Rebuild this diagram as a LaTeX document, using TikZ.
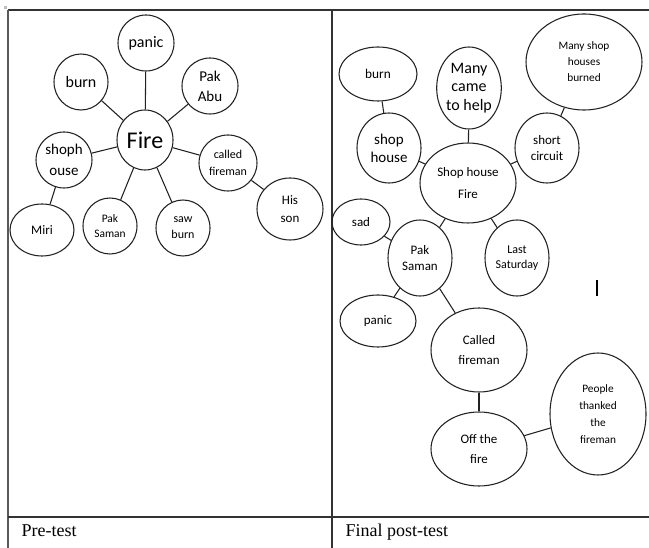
\documentclass[tikz,border=0pt]{standalone}
\usepackage{fontspec}
\setmainfont{Carlito}
\newfontfamily\tnr{Liberation Serif}
\usetikzlibrary{shapes.geometric}
\definecolor{linec}{HTML}{222222}
\definecolor{tablec}{HTML}{333333}
\begin{document}
\begin{tikzpicture}[x=0.75pt,y=-0.75pt,
  bub/.style 2 args={ellipse, draw=linec, line width=0.8pt, inner sep=0pt,
    minimum width={1.5pt*#1}, minimum height={1.5pt*#2}, align=center},
  fs/.style 2 args={font=\fontsize{#1}{#2}\selectfont},
  conn/.style={draw=linec, line width=0.8pt},
  tline/.style={draw=tablec, line width=1.2pt},
  captext/.style={anchor=base west, font=\tnr\fontsize{13.5pt}{15pt}\selectfont}]
\useasboundingbox (0,0) rectangle (649,548);
\fill[white] (0,0) rectangle (649,548);
% table
\draw[tline] (8,10) -- (649,10);
\draw[tline, draw=black!65, line width=1.5pt] (8,10) -- (8,548);
\draw[tline] (332,10) -- (332,548);
\draw[tline] (8,517) -- (649,517);
\fill[black!25] (4,6) rectangle (7,9);
\node[captext] (pre) at (17,536) {Pre-test};
\node[captext] (post) at (341,536) {Final post-test};
% ---------- left panel ----------
\node[bub={28}{28}, fs={12pt}{14pt}] (lpanic) at (146,43) {panic};
\node[bub={27}{28}, fs={12pt}{14pt}] (lburn) at (81,82) {burn};
\node[bub={28}{28}, fs={11.25pt}{15pt}] (labu) at (210,86) {Pak\\Abu};
\node[bub={28}{30}, fs={18pt}{20pt}] (lfire) at (145,140) {Fire};
\node[bub={28}{28}, fs={11.25pt}{16pt}] (lshop) at (64,160) {shoph\\ouse};
\node[bub={29}{28}, fs={9pt}{12.5pt}] (lcalled) at (228,163) {called\\fireman};
\node[bub={32}{26}, fs={9.75pt}{12pt}] (lmiri) at (42,230) {Miri};
\node[bub={27}{28}, fs={8.6pt}{11.5pt}] (lsaman) at (110,226) {Pak\\Saman};
\node[bub={27}{28}, fs={9pt}{12pt}] (lsaw) at (183,228) {saw\\burn};
\node[bub={33}{31}, fs={9.75pt}{13pt}] (lson) at (290,209) {His\\son};
\draw[conn] (lfire) -- (lpanic);
\draw[conn] (lfire) -- (lburn);
\draw[conn] (lfire) -- (labu);
\draw[conn] (lfire) -- (lshop);
\draw[conn] (lfire) -- (lcalled);
\draw[conn] (lfire) -- (lsaman);
\draw[conn] (lfire) -- (lsaw);
\draw[conn] (lshop) -- (lmiri);
\draw[conn] (lcalled) -- (lson);
% ---------- right panel ----------
\node[bub={39}{27}, fs={10pt}{12pt}] (rburn) at (378,74) {burn};
\node[bub={32}{41}, fs={12pt}{14pt}] (rmany) at (469,88) {Many\\came\\to help};
\node[bub={58}{48}, fs={8.5pt}{12pt}] (rburned) at (584,62) {Many shop\\houses\\burned};
\node[bub={32}{35}, fs={11.25pt}{13.5pt}] (rshop) at (389,148) {shop\\house};
\node[bub={32}{35}, fs={9.75pt}{12pt}] (rshort) at (547,148) {short\\circuit};
\node[bub={48}{40}, fs={9.75pt}{17pt}] (rfire) at (468,183) {Shop house\\Fire};
\node[bub={29}{23}, fs={9.75pt}{12pt}] (rsad) at (361,222) {sad};
\node[bub={32}{38}, fs={9.75pt}{12pt}] (rsaman) at (420,258) {Pak\\Saman};
\node[bub={32}{38}, fs={9pt}{11.5pt}] (rsat) at (517,258) {Last\\Saturday};
\node[bub={38}{26}, fs={9.75pt}{12pt}] (rpanic) at (378,321) {panic};
\node[bub={48}{42}, fs={9.75pt}{14.5pt}] (rcalled) at (479,350) {Called\\fireman};
\node[bub={48}{37}, fs={9.75pt}{14.5pt}] (roff) at (479,449) {Off the\\fire};
\node[bub={48}{61}, fs={8.5pt}{12.8pt}] (rthank) at (598,414) {People\\thanked\\the\\fireman};
\draw[conn] (rburn) -- (rshop);
\draw[conn] (rmany) -- (rfire);
\draw[conn] (rshop) -- (rfire);
\draw[conn] (rshort) -- (rfire);
\draw[conn] (rburned) -- (rshort);
\draw[conn] (rfire) -- (rsaman);
\draw[conn] (rfire) -- (rsat);
\draw[conn] (rsad) -- (rsaman);
\draw[conn] (rsaman) -- (rpanic);
\draw[conn] (rsaman) -- (rcalled);
\draw[conn] (rcalled) -- (roff);
\draw[conn] (roff) -- (rthank);
% stray cursor mark
\draw[black, line width=0.8pt] (597,280) -- (597,296);
\end{tikzpicture}
\end{document}
